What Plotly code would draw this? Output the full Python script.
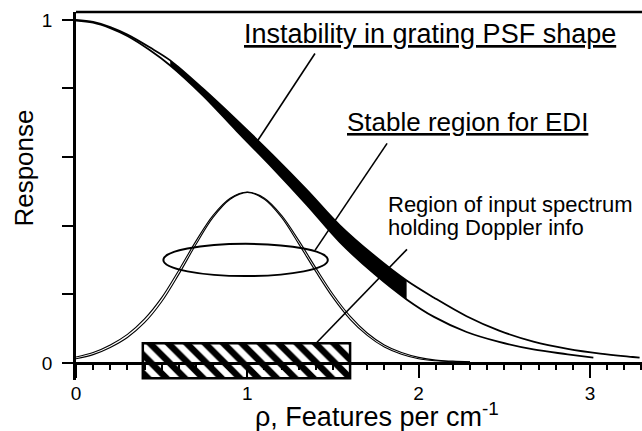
import plotly.graph_objects as go

# ---- data ----
upper_x = [0, 0.1, 0.2, 0.3, 0.43, 0.55, 0.74, 0.94, 1.15, 1.35, 1.54, 1.74, 1.93, 2.09, 2.28, 2.47, 2.67, 2.87, 3.06, 3.25, 3.29]
upper_y = [1.0, 0.994, 0.979, 0.957, 0.92, 0.882, 0.80, 0.707, 0.605, 0.503, 0.401, 0.313, 0.24, 0.19, 0.136, 0.094, 0.062, 0.041, 0.027, 0.017, 0.015]
lower_x = [0, 0.1, 0.2, 0.3, 0.43, 0.55, 0.74, 0.94, 1.15, 1.35, 1.54, 1.74, 1.93, 2.09, 2.28, 2.47, 2.67, 2.87, 3.02]
lower_y = [0.998, 0.992, 0.976, 0.953, 0.912, 0.867, 0.78, 0.675, 0.567, 0.459, 0.352, 0.26, 0.185, 0.134, 0.09, 0.061, 0.039, 0.025, 0.015]
band_start, band_end = 5, 12  # indices of the black filled band

bell_x = [0, 0.1, 0.2, 0.3, 0.4, 0.5, 0.6, 0.7, 0.8, 0.9, 1.0, 1.1, 1.2, 1.3, 1.4, 1.5, 1.6, 1.7, 1.8, 1.9, 2.0, 2.1, 2.2, 2.3]
bell_outer = [0.017, 0.030, 0.052, 0.083, 0.128, 0.19, 0.27, 0.355, 0.43, 0.48, 0.498, 0.48, 0.43, 0.357, 0.277, 0.20, 0.136, 0.087, 0.052, 0.03, 0.016, 0.008, 0.005, 0.003]
bell_inner = [0.012, 0.024, 0.045, 0.074, 0.117, 0.178, 0.258, 0.345, 0.424, 0.477, 0.497, 0.477, 0.424, 0.347, 0.266, 0.19, 0.127, 0.08, 0.046, 0.025, 0.012, 0.006, 0.003, 0.002]

ellipse_x = [0.51, 1.47]
ellipse_y = [0.253, 0.347]

rect_x = [0.39, 1.60]
rect_y = [-0.045, 0.057]

x_ticks = [0, 1, 2, 3]
y_ticks = [0, 0.2, 0.4, 0.6, 0.8, 1.0]
y_ticktext = ["0", " ", " ", " ", " ", "1"]

labels = ["Instability in grating PSF shape", "Stable region for EDI",
          "Region of input spectrum", "holding Doppler info"]
leader_lines = [  # (x0, y0, x1, y1)
    (1.395, 0.902, 1.062, 0.649),
    (1.816, 0.640, 1.395, 0.328),
    (1.932, 0.331, 1.407, 0.060),
]

FONT = "Liberation Sans, Arial, Helvetica, sans-serif"
X_RANGE = [0, 3.304]
Y_RANGE = [-0.05, 1.023]

fig = go.Figure()

# hatched rectangle
fig.add_trace(go.Bar(
    x=[(rect_x[0] + rect_x[1]) / 2], y=[rect_y[1] - rect_y[0]], base=[rect_y[0]],
    width=[rect_x[1] - rect_x[0]],
    marker=dict(color="white", line=dict(color="black", width=2.5),
                pattern=dict(shape="\\", fgcolor="black", fgopacity=1, bgcolor="white",
                             size=13, solidity=0.5)),
    showlegend=False, hoverinfo="skip"))

# black band
fig.add_trace(go.Scatter(x=lower_x[band_start:band_end + 1], y=lower_y[band_start:band_end + 1],
                         mode="lines", line=dict(color="black", width=0, shape="spline"),
                         showlegend=False, hoverinfo="skip"))
fig.add_trace(go.Scatter(x=upper_x[band_start:band_end + 1], y=upper_y[band_start:band_end + 1],
                         mode="lines", line=dict(color="black", width=0, shape="spline"),
                         fill="tonexty", fillcolor="black", showlegend=False, hoverinfo="skip"))

# response curves
for xs, ys in [(upper_x, upper_y), (lower_x, lower_y)]:
    fig.add_trace(go.Scatter(x=xs, y=ys, mode="lines",
                             line=dict(color="black", width=1.8, shape="spline"),
                             showlegend=False, hoverinfo="skip"))
for ys in [bell_outer, bell_inner]:
    fig.add_trace(go.Scatter(x=bell_x, y=ys, mode="lines",
                             line=dict(color="black", width=1.1, shape="spline"),
                             showlegend=False, hoverinfo="skip"))

shapes = [
    dict(type="circle", xref="x", yref="y", x0=ellipse_x[0], x1=ellipse_x[1],
         y0=ellipse_y[0], y1=ellipse_y[1], line=dict(color="black", width=2)),
    dict(type="line", xref="paper", yref="paper", x0=0, x1=1, y0=1, y1=1,
         line=dict(color="black", width=2.5)),
]
for (x0, y0, x1, y1) in leader_lines:
    shapes.append(dict(type="line", xref="x", yref="y", x0=x0, y0=y0, x1=x1, y1=y1,
                       line=dict(color="black", width=1.6)))

annotations = [
    dict(text=labels[0], x=2.067, y=0.958, xref="x", yref="y", showarrow=False,
         xanchor="center", yanchor="middle",
         font=dict(family=FONT, size=27, color="black", lineposition="under")),
    dict(text=labels[1], x=2.283, y=0.701, xref="x", yref="y", showarrow=False,
         xanchor="center", yanchor="middle",
         font=dict(family=FONT, size=26, color="black", lineposition="under")),
    dict(text=labels[2], x=1.81, y=0.462, xref="x", yref="y", showarrow=False,
         xanchor="left", yanchor="middle", align="left",
         font=dict(family=FONT, size=22, color="black")),
    dict(text=labels[3], x=1.81, y=0.395, xref="x", yref="y", showarrow=False,
         xanchor="left", yanchor="middle", align="left",
         font=dict(family=FONT, size=22, color="black")),
    dict(text="\u03c1, Features per cm<sup>-1</sup>", x=0.532, y=-0.095, xref="paper", yref="paper",
         showarrow=False, xanchor="center", yanchor="middle",
         font=dict(family=FONT, size=27, color="black")),
    dict(text="Response", x=-0.092, y=0.577, xref="paper", yref="paper", textangle=-90,
         showarrow=False, xanchor="center", yanchor="middle",
         font=dict(family=FONT, size=26, color="black")),
]

fig.update_layout(
    width=642, height=431,
    margin=dict(l=76, r=0, t=12, b=51, autoexpand=False),
    paper_bgcolor="white", plot_bgcolor="white",
    shapes=shapes, annotations=annotations,
    font=dict(family=FONT, color="black"),
    xaxis=dict(range=X_RANGE, anchor="free", position=(0 - Y_RANGE[0]) / (Y_RANGE[1] - Y_RANGE[0]),
               showgrid=False, zeroline=False, showline=True, linecolor="black", linewidth=2.5,
               ticks="outside", ticklen=13, tickwidth=2, tickcolor="black",
               tickvals=x_ticks, ticktext=[str(v) for v in x_ticks],
               tickfont=dict(family=FONT, size=19, color="black"),
               minor=dict(dtick=0.1, ticks="outside", ticklen=5, tickwidth=1.5, tickcolor="black",
                          showgrid=False)),
    yaxis=dict(range=Y_RANGE, showgrid=False, zeroline=False, showline=True, linecolor="black",
               linewidth=2.5, ticks="outside", ticklen=11, tickwidth=2, tickcolor="black",
               tickvals=y_ticks, ticktext=y_ticktext, ticklabelstandoff=6,
               tickfont=dict(family=FONT, size=19, color="black")),
)

fig.write_html("out.html", config={"displayModeBar": False},
               post_script="document.body.style.margin='0';document.body.style.overflow='hidden';")
